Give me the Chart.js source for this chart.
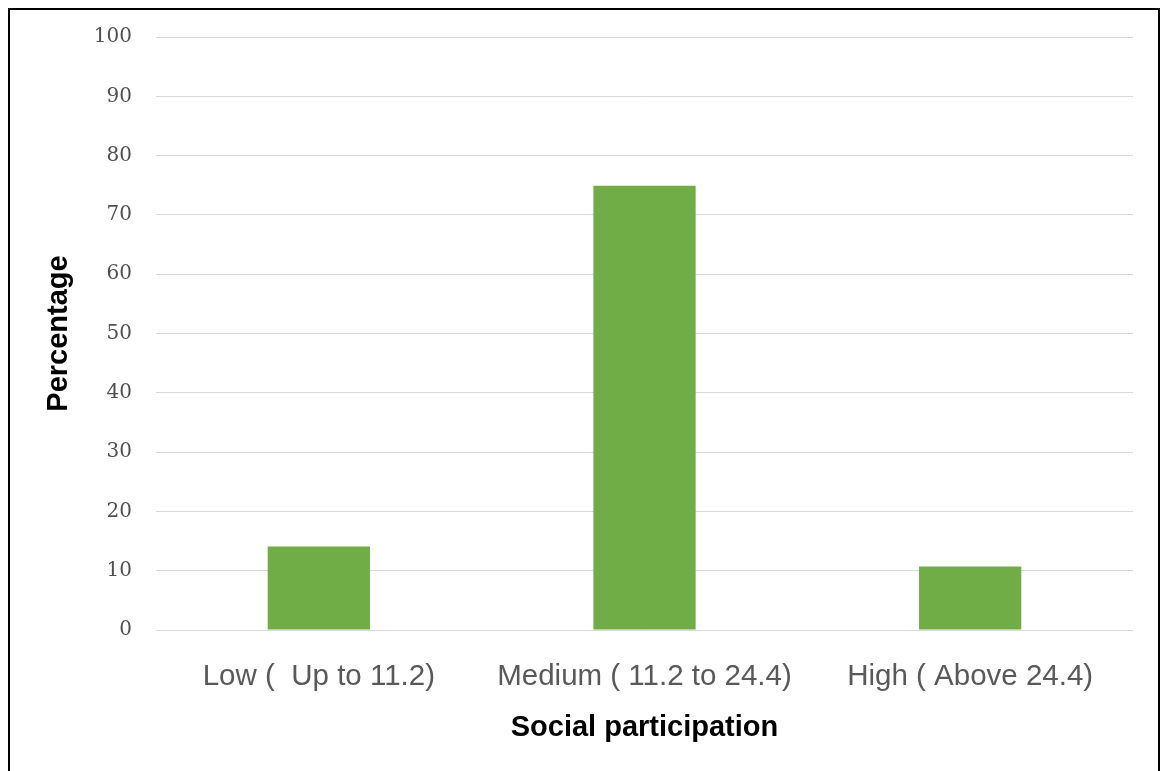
<!DOCTYPE html>
<html>
<head>
<meta charset="utf-8">
<title>Social participation</title>
<script src="https://cdn.jsdelivr.net/npm/chart.js@4"></script>
<style>
    html, body { margin: 0; padding: 0; background: #fff; overflow: hidden; }
    #frame {
        position: absolute; left: 8px; top: 8px;
        width: 1152px; height: 800px;
        box-sizing: border-box;
        border: 2px solid #000; border-bottom: none;
    }
    #wrap { position: absolute; left: 0; top: 0; width: 1168px; height: 771px; }
</style>
</head>
<body>
<div id="frame"></div>
<div id="wrap"><canvas id="chart" width="1168" height="771"></canvas></div>
<script>
const categories = ['Low (  Up to 11.2)', 'Medium ( 11.2 to 24.4)', 'High ( Above 24.4)'];
const percentages = [14.1, 74.9, 10.7];
const yTicks = [0, 10, 20, 30, 40, 50, 60, 70, 80, 90, 100];

const ctx = document.getElementById('chart').getContext('2d');
new Chart(ctx, {
    type: 'bar',
    data: {
        labels: categories,
        datasets: [{
            label: 'Percentage',
            data: percentages,
            backgroundColor: '#70ad47',
            borderWidth: 0,
            categoryPercentage: 1,
            barPercentage: 0.314
        }]
    },
    options: {
        responsive: false,
        animation: false,
        layout: { padding: { left: 0, top: 37, right: 35, bottom: 0 } },
        plugins: { legend: { display: false }, tooltip: { enabled: false } },
        scales: {
            x: {
                grid: { display: false },
                border: { display: false },
                ticks: {
                    color: '#595959',
                    padding: 21,
                    maxRotation: 0,
                    font: { family: 'Liberation Sans, Arial, sans-serif', size: 29.5 }
                },
                title: {
                    display: true,
                    text: 'Social participation',
                    color: '#000',
                    padding: { top: 0, bottom: 26 },
                    font: { family: 'Liberation Sans, Arial, sans-serif', size: 29, weight: 'bold' }
                },
                afterFit: s => { s.height = 141; }
            },
            y: {
                min: 0,
                max: 100,
                afterBuildTicks: s => { s.ticks = yTicks.map(v => ({ value: v })); },
                grid: { color: '#d9d9d9', lineWidth: 1, drawTicks: false },
                border: { display: false },
                ticks: {
                    color: '#505050',
                    padding: 24,
                    font: { family: 'DejaVu Serif, serif', size: 20 }
                },
                title: {
                    display: true,
                    text: 'Percentage',
                    color: '#000',
                    padding: { top: 42, bottom: 0 },
                    font: { family: 'Liberation Sans, Arial, sans-serif', size: 29, weight: 'bold' }
                },
                afterFit: s => { s.width = 156; }
            }
        }
    }
});
</script>
</body>
</html>
